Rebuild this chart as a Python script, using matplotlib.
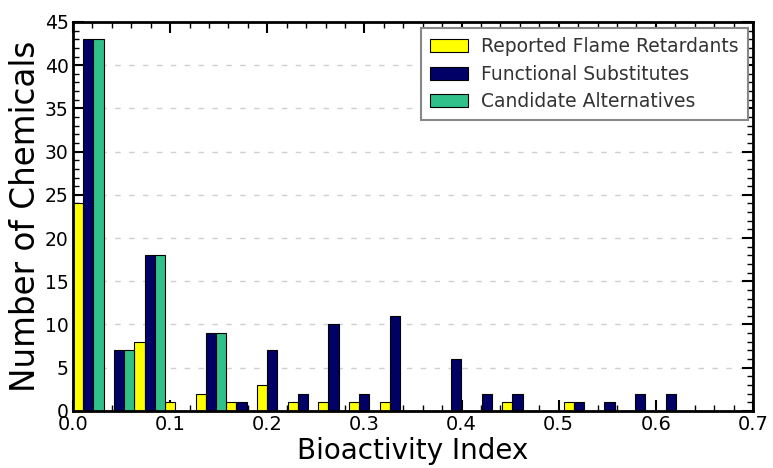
import numpy as np
import matplotlib
matplotlib.use('Agg')
import matplotlib.pyplot as plt
from matplotlib.ticker import MultipleLocator

# histogram counts per bin of bioactivity index (20 bins from 0 to ~0.63)
bin_width = 0.03156
reported = [24, 0, 8, 1, 2, 1, 3, 1, 1, 1, 1, 0, 0, 0, 1, 0, 1, 0, 0, 0]
functional = [43, 7, 18, 0, 9, 1, 7, 2, 10, 2, 11, 0, 6, 2, 2, 0, 1, 1, 2, 2]
candidate = [43, 7, 18, 0, 9, 0, 0, 0, 0, 0, 0, 0, 0, 0, 0, 0, 0, 0, 0, 0]

series = [
    ('Reported Flame Retardants', reported, '#ffff00'),
    ('Functional Substitutes', functional, '#000066'),
    ('Candidate Alternatives', candidate, '#30c08a'),
]

fig = plt.figure(figsize=(7.73, 4.68), dpi=100)
ax = fig.add_axes([0.0944, 0.122, 0.8797, 0.831])

left_edges = np.arange(len(reported)) * bin_width
w = bin_width / 3.0
for i, (name, vals, col) in enumerate(series):
    ax.bar(left_edges + i * w, vals, w, align='edge', color=col,
           edgecolor='black', linewidth=0.8, label=name, zorder=2)

ax.set_xlim(0, 0.7)
ax.set_ylim(0, 45)
ax.xaxis.set_major_locator(MultipleLocator(0.1))
ax.xaxis.set_minor_locator(MultipleLocator(0.02))
ax.yaxis.set_major_locator(MultipleLocator(5))
ax.yaxis.set_minor_locator(MultipleLocator(1))
ax.tick_params(which='both', direction='in', top=True, right=True)
ax.tick_params(which='major', length=8, width=1.5)
ax.tick_params(which='minor', length=4, width=1)
ax.tick_params(axis='x', labelsize=14, pad=3)
ax.tick_params(axis='y', labelsize=13.5, pad=3)
for s in ax.spines.values():
    s.set_linewidth(2)
    s.set_zorder(3)

ax.yaxis.grid(True, linestyle=(0, (4, 6)), color='#d0d0d0', linewidth=1, zorder=0)
ax.set_axisbelow(True)

ax.set_xlabel('Bioactivity Index', fontsize=20, labelpad=2)
ax.set_ylabel('Number of Chemicals', fontsize=23.5, labelpad=2)

leg = ax.legend(loc='upper right', fontsize=13.5, fancybox=False,
                framealpha=1, edgecolor='#888888', handlelength=2.0,
                handletextpad=0.7, borderpad=0.5, labelspacing=0.45,
                borderaxespad=0, bbox_to_anchor=(0.9926, 0.985))
for t in leg.get_texts():
    t.set_color('#333333')
leg.get_frame().set_linewidth(1.5)

fig.savefig('out.png', dpi=100)
